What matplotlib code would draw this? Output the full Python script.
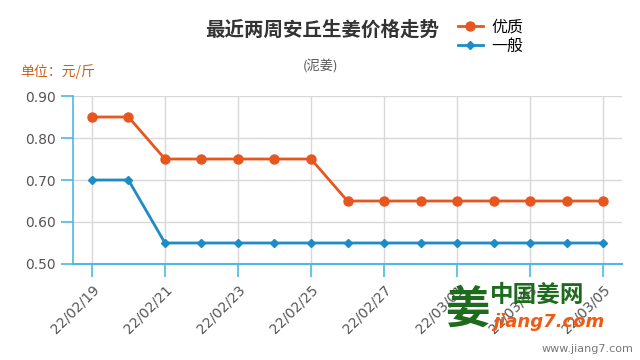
import matplotlib
matplotlib.use('Agg')
import matplotlib.pyplot as plt
import numpy as np

plt.rcParams['font.family'] = ['Noto Sans CJK SC', 'DejaVu Sans']

dates = ['22/02/19', '22/02/20', '22/02/21', '22/02/22', '22/02/23',
         '22/02/24', '22/02/25', '22/02/26', '22/02/27', '22/02/28',
         '22/03/01', '22/03/02', '22/03/03', '22/03/04', '22/03/05']
youzhi = [0.85, 0.85, 0.75, 0.75, 0.75, 0.75, 0.75, 0.65, 0.65, 0.65,
          0.65, 0.65, 0.65, 0.65, 0.65]
yiban = [0.70, 0.70, 0.55, 0.55, 0.55, 0.55, 0.55, 0.55, 0.55, 0.55,
         0.55, 0.55, 0.55, 0.55, 0.55]
yticks = [0.50, 0.60, 0.70, 0.80, 0.90]

orange = '#E8561F'
blue = '#1B8CC6'
axis_c = '#4CB9E6'

fig = plt.figure(figsize=(6.4, 3.6), dpi=100)
ax = fig.add_axes([0.114, 0.2667, 0.858, 0.4666])

x = np.arange(len(dates))
ax.plot(x, youzhi, color=orange, lw=2, marker='o', ms=6.5, label='优质', zorder=3)
ax.plot(x, yiban, color=blue, lw=2, marker='D', ms=4.5, label='一般', zorder=3)

ax.set_xlim(-0.52, len(dates) - 1 + 0.52)
ax.set_ylim(0.5, 0.9)
ax.set_yticks(yticks)
ax.set_yticklabels(['%.2f' % v for v in yticks], color='#555555', fontsize=10,
                   family='DejaVu Sans')
ax.set_xticks(x[::2])
ax.set_xticklabels(dates[::2], rotation=45, ha='right', rotation_mode='anchor',
                   color='#555555', fontsize=10, family='DejaVu Sans')
ax.grid(True, color='#d8d8d8', lw=1)
ax.set_axisbelow(True)
for s in ['top', 'right']:
    ax.spines[s].set_visible(False)
ax.spines['left'].set_color(axis_c)
ax.spines['bottom'].set_color(axis_c)
ax.spines['left'].set_linewidth(1.2)
ax.spines['bottom'].set_linewidth(1.5)
ax.tick_params(axis='y', colors=axis_c, length=9, width=1.2, labelcolor='#555555')
ax.tick_params(axis='x', colors=axis_c, length=9, width=1.2, labelcolor='#555555',
               direction='out', pad=4)

fig.text(0.503, 0.915, '最近两周安丘生姜价格走势', ha='center', va='center',
         fontsize=14, fontweight='bold', color='#333333')
fig.text(0.5, 0.815, '(泥姜)', ha='center', va='center', fontsize=9.5, color='#555555')
fig.text(0.031, 0.80, '单位：元/斤', ha='left', va='center', fontsize=10, color='#C8611C')

fig.legend(loc='upper left', bbox_to_anchor=(0.715, 0.948), frameon=False,
           fontsize=11.5, handlelength=1.6, handletextpad=0.5, labelspacing=0.1,
           borderaxespad=0, borderpad=0)

# watermark
fig.text(0.73, 0.14, '姜', fontsize=32, color='#1E6B1E', ha='center', va='center',
         fontweight='bold')
fig.text(0.765, 0.18, '中国姜网', fontsize=17, color='#1E6B1E', ha='left', va='center',
         fontweight='bold')
fig.text(0.77, 0.105, 'jiang7.com', fontsize=13, color='#F05A14', ha='left',
         va='center', fontweight='bold', style='italic', family='DejaVu Sans')
fig.text(0.99, 0.03, 'www.jiang7.com', fontsize=8, color='#777777', ha='right',
         va='center', family='DejaVu Sans')

fig.savefig('out.png', dpi=100)
